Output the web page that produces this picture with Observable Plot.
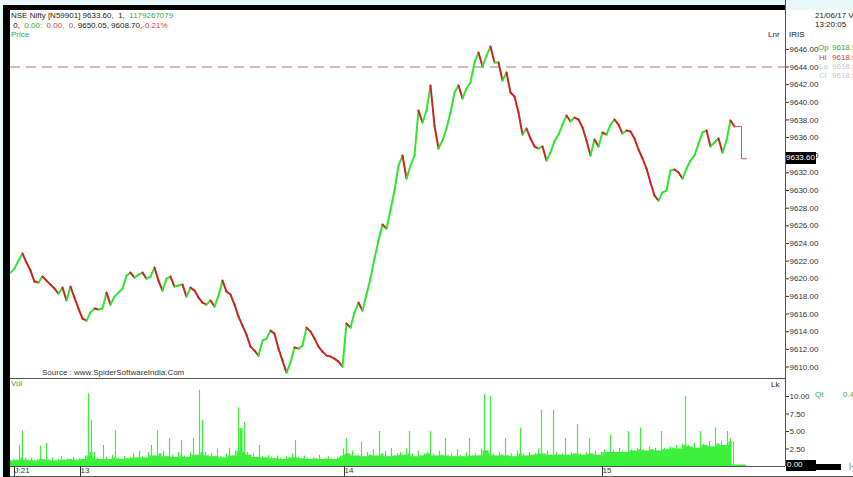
<!DOCTYPE html>
<html><head><meta charset="utf-8">
<script src="https://cdn.jsdelivr.net/npm/d3@7"></script>
<script src="https://cdn.jsdelivr.net/npm/@observablehq/plot@0.6"></script>
<style>
html,body{margin:0;padding:0;background:#e8f7f8;}
#wrap{position:relative;width:853px;height:477px;overflow:hidden;background:#e8f7f8;font-family:"Liberation Sans",Arial,sans-serif;font-size:8px;color:#222;}
.abs{position:absolute;white-space:nowrap;line-height:1;}
.g{color:#3aa83a}.r{color:#c84545}.lg{color:#c8c8c8}
svg{position:absolute;left:0;}
</style></head><body>
<div id="wrap">
  <div class="abs" style="left:10px;top:10px;width:843px;height:467px;background:#fff"></div>
  <div id="pricebox"></div>
  <div id="volbox"></div>
</div>
<script>
// ---- data ----
const PRICE_STEP = 4;           // time units between price samples
const VOL_STEP = 3;             // time units between volume samples
const X_MAX = 775;              // time units across the panel
const prices = [9620.70,9621.15,9622.06,9622.85,9621.83,9620.93,9619.68,9619.57,9620.25,9619.79,
9619.34,9618.89,9618.32,9619.00,9617.53,9619.11,9617.87,9616.62,9615.49,9615.26,
9616.17,9616.62,9616.51,9616.62,9618.43,9617.07,9617.98,9618.43,9618.89,9620.36,
9620.70,9620.13,9620.47,9620.70,9620.02,9620.25,9621.27,9619.79,9618.66,9620.02,
9620.25,9619.11,9619.23,9619.34,9617.98,9619.00,9618.66,9617.87,9617.30,9617.07,
9617.53,9616.85,9618.09,9619.79,9618.55,9618.21,9617.07,9615.71,9614.69,9613.67,
9612.31,9611.86,9611.29,9612.99,9613.22,9614.12,9613.78,9612.08,9610.72,9609.36,
9610.50,9612.20,9612.08,9612.42,9614.46,9614.01,9613.22,9612.31,9611.74,9611.29,
9611.18,9610.95,9610.61,9610.04,9614.92,9614.46,9616.17,9617.30,9616.39,9618.21,
9620.02,9622.29,9624.33,9626.14,9625.69,9627.73,9630.00,9632.83,9633.97,9631.36,
9632.83,9633.97,9639.07,9637.71,9639.07,9641.90,9637.37,9634.76,9635.67,9637.03,
9638.84,9641.11,9641.90,9640.43,9641.56,9642.24,9644.51,9645.64,9644.06,9645.30,
9646.32,9644.51,9644.51,9642.47,9643.38,9641.11,9640.66,9638.84,9636.35,9637.03,
9635.89,9634.99,9634.76,9634.99,9633.40,9634.31,9635.55,9636.35,9637.48,9638.50,
9637.82,9638.27,9638.05,9637.14,9635.67,9633.97,9635.78,9634.99,9636.57,9636.35,
9637.48,9638.05,9637.48,9636.46,9636.80,9636.69,9635.89,9634.65,9633.63,9632.49,
9630.90,9629.43,9628.86,9629.77,9630.00,9632.27,9632.38,9632.04,9631.36,9632.49,
9633.40,9633.97,9635.33,9636.57,9636.80,9634.99,9635.44,9635.89,9634.31,9635.67,
9637.93,9637.25];
const volumes = [0.8,1.0,0.9,3.0,5.1,1.2,0.9,1.1,0.8,1.0,
2.9,1.0,3.3,0.9,1.2,0.8,1.0,1.4,0.9,1.1,
1.0,1.3,0.9,1.1,1.0,1.5,10.4,6.6,2.0,1.2,
1.0,3.0,1.3,1.0,1.6,5.1,1.2,1.0,1.4,1.1,
1.3,1.8,1.2,2.2,1.4,1.2,2.0,3.0,1.5,5.1,
1.8,2.2,1.4,4.0,1.6,1.3,2.0,3.7,1.5,1.3,
2.0,4.0,1.6,10.9,6.6,2.0,1.5,1.8,1.4,2.5,
1.4,1.2,1.8,2.6,1.5,2.2,8.4,5.4,6.3,2.0,
1.6,1.8,1.3,3.0,1.4,1.2,1.6,1.3,1.1,1.5,
1.2,1.0,1.4,1.2,1.8,3.7,1.3,1.1,1.5,1.2,
1.0,1.3,1.1,1.6,1.0,1.2,1.4,1.1,1.0,1.2,
1.5,2.5,4.0,1.8,2.2,1.5,1.6,3.5,1.4,2.0,
1.6,2.4,1.5,5.0,1.8,2.2,1.4,2.6,1.5,1.8,
2.0,1.6,2.5,5.0,1.8,1.4,2.2,1.5,1.8,2.0,
5.0,1.8,1.5,2.2,1.6,4.0,1.5,1.8,1.4,2.4,
1.6,1.4,2.0,4.0,1.5,1.8,1.5,2.5,10.3,2.2,
10.0,1.8,1.5,2.0,1.6,4.0,1.5,1.8,1.4,2.2,
5.5,1.8,1.5,2.0,1.6,1.8,2.5,8.0,1.8,2.2,
1.6,8.0,2.0,1.6,1.8,4.0,1.6,2.0,1.8,6.0,
1.8,1.6,2.0,4.0,1.8,2.2,1.6,2.0,2.4,2.0,
4.5,2.2,2.0,2.6,2.2,2.0,5.0,2.4,2.2,2.6,
5.5,2.4,2.2,2.8,2.4,2.6,2.2,5.0,2.6,2.4,
2.8,2.6,3.0,2.5,3.2,10.0,3.0,2.8,3.4,2.6,
5.0,3.2,3.0,3.6,2.8,5.5,3.2,3.6,3.0,5.0,
4.0,3.5,0.2,0.2,0.2,0.2];
const lastClose = 9633.60;
const refLevel = 9644;
const priceTicks = [9610,9612,9614,9616,9618,9620,9622,9624,9626,9628,9630,9632,9634,9636,9638,9640,9642,9644,9646];
const volTicks = [2.5,5,7.5,10];
const dayTickPos = [2,68,332,590];
const dayLabels = ["J:21","13","14","15"];

const GREEN = "#2fe62f", RED = "#c8261e", VGREEN = "#3cf03c";
const pdata = prices.map((p,i)=>({t:i*PRICE_STEP,p}));
const segs = pdata.slice(1).map((d,i)=>({t1:pdata[i].t,p1:pdata[i].p,t2:d.t,p2:d.p,up:d.p>=pdata[i].p}));
const last = pdata[pdata.length-1];
const bracket = [{t:last.t,p:last.p},{t:last.t+7,p:last.p},{t:last.t+7,p:lastClose},{t:last.t+12,p:lastClose}];
const vdata = volumes.map((v,i)=>({t:i*VOL_STEP,v,
  base:Math.min(v,volumes[Math.max(0,i-1)],volumes[Math.min(volumes.length-1,i+1)])}));
const fmt2 = d3.format(".2f");
const labelMap = new Map(dayTickPos.map((d,i)=>[d,dayLabels[i]]));
const font = {background:"transparent",fontFamily:"'Liberation Sans',Arial,sans-serif",fontSize:"8px",color:"#333",overflow:"visible"};

const price = Plot.plot({
  width:853,height:378,marginLeft:10,marginRight:68,marginTop:0,marginBottom:0,
  style:font,
  x:{domain:[0,X_MAX],axis:null},
  y:{domain:[9610,9646],range:[366.5,48.86],axis:null},
  marks:[
    Plot.ruleY([refLevel],{stroke:"#c9a19c",strokeWidth:1.6,strokeDasharray:"10,6"}),
    Plot.link(segs,{x1:"t1",y1:"p1",x2:"t2",y2:"p2",stroke:d=>d.up?GREEN:RED,strokeWidth:2,strokeLinecap:"round"}),
    Plot.line(bracket,{x:"t",y:"p",stroke:"#c05a5a",strokeWidth:1}),
    Plot.axisY({anchor:"right",ticks:priceTicks,tickFormat:fmt2,tickSize:3,tickPadding:1,label:null}),
    Plot.ruleX([X_MAX],{stroke:"#555"})
  ]
});
price.style.top="0px";
document.getElementById("pricebox").appendChild(price);

const vol = Plot.plot({
  width:853,height:99,marginLeft:10,marginRight:68,marginTop:0,marginBottom:11,
  style:font,
  x:{domain:[0,X_MAX],axis:null},
  y:{domain:[0,10],range:[88,18],axis:null},
  marks:[
    Plot.areaY(vdata,{x:"t",y:"base",curve:"step",fill:VGREEN}),
    Plot.ruleX(vdata,{x:"t",y1:0,y2:"v",stroke:VGREEN,strokeWidth:1.2}),
    Plot.ruleY([0],{stroke:"#555"}),
    Plot.axisY({anchor:"right",ticks:volTicks,tickFormat:fmt2,tickSize:3,tickPadding:1,label:null}),
    Plot.axisX({anchor:"bottom",ticks:dayTickPos,tickFormat:d=>labelMap.get(d),tickSize:10,tickPadding:-9,textAnchor:"start",dx:2,label:null}),
    Plot.ruleX([X_MAX],{stroke:"#555"})
  ]
});
vol.style.top="378px";
document.getElementById("volbox").appendChild(vol);

// ---- text and frame overlays ----
const wrap = document.getElementById("wrap");
function add(html,css){const d=document.createElement("div");d.className="abs";d.style.cssText=css;d.innerHTML=html;wrap.appendChild(d);return d;}
add("","left:3px;top:5px;width:782px;height:5px;background:#000");
add("","left:3px;top:5px;width:7px;height:472px;background:#000");
add("","left:10px;top:378px;width:775px;height:1px;background:#555");
add("","left:10px;top:476px;width:843px;height:1px;background:#555");
add('NSE Nifty [N59901] 9633.60,&nbsp; 1,&nbsp; <span class="g">1179267079</span>',"left:11px;top:12px");
add('&nbsp;0,&nbsp; <span class="g">0.00:</span>&nbsp; <span class="r">0.00,</span>&nbsp; <span class="r">0,</span> 9650.05, 9608.70,<span class="r">-0.21%</span>',"left:11px;top:22px");
add('<span class="g">Price</span>',"left:11px;top:31px");
add('Lnr',"left:768px;top:31px");
add('IRIS',"left:789px;top:31px");
add('21/06/17 V',"left:815px;top:12px");
add('13:20:05',"left:815px;top:21px");
add('<span class="g">Op</span>',"left:818px;top:44px");
add('<span class="g">9618.90</span>',"left:832px;top:44px");
add('<span class="r">Hi</span>',"left:819px;top:54px");
add('<span class="r">9618.90</span>',"left:832px;top:54px");
add('<span class="lg">Lo</span>',"left:819px;top:63px");
add('<span class="lg">9618.90</span>',"left:832px;top:63px");
add('<span class="lg">Cl</span>',"left:819px;top:72px");
add('<span class="lg">9618.90</span>',"left:832px;top:72px");
add('Source : www.SpiderSoftwareIndia.Com',"left:42px;top:369px;color:#333");
add('<span class="g">Vol</span>',"left:11px;top:380px");
add('Lk',"left:771px;top:381px");
add('<span class="g">Qt</span>',"left:815px;top:391px");
add('<span class="g">0.4</span>',"left:843px;top:391px");
add('9633.60',"left:786px;top:152px;width:30px;height:12px;background:#000;color:#fff;padding-top:2px;box-sizing:border-box");
add('0.00',"left:786px;top:460px;width:30px;height:11px;background:#000;color:#fff;padding-top:1px;padding-left:1px;box-sizing:border-box");
add('',"left:816px;top:464px;width:25px;height:6px;background:#000");
add('|-',"left:849px;top:462px;color:#555");
</script>
</body></html>
